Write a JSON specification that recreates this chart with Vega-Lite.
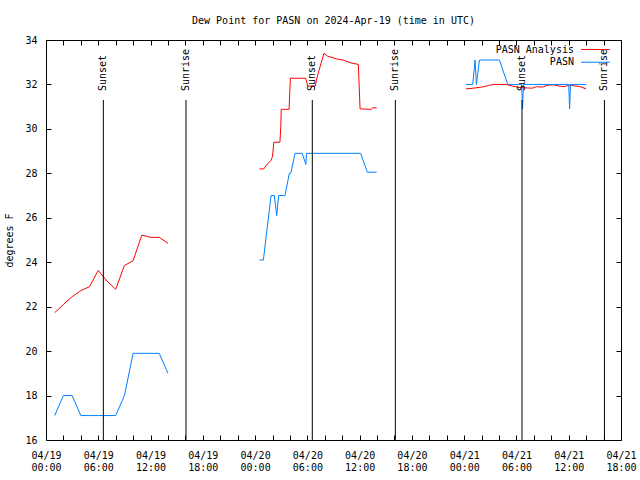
{
  "$schema": "https://vega.github.io/schema/vega-lite/v6.json",
  "width": 575,
  "height": 400,
  "autosize": "none",
  "padding": {"left": 46, "top": 40, "right": 19, "bottom": 40},
  "background": "white",
  "config": {
    "font": "DejaVu Sans Mono",
    "view": {"stroke": "black", "strokeWidth": 1},
    "axis": {
      "domain": false,
      "grid": false,
      "tickColor": "black",
      "tickSize": -5,
      "labelColor": "black",
      "labelFont": "DejaVu Sans Mono",
      "labelFontSize": 10,
      "titleFont": "DejaVu Sans Mono",
      "titleFontSize": 10,
      "titleFontWeight": "normal",
      "titleColor": "black"
    },
    "text": {"font": "DejaVu Sans Mono", "fontSize": 10, "color": "black"}
  },
  "title": {
    "text": "Dew Point for PASN on 2024-Apr-19 (time in UTC)",
    "font": "DejaVu Sans Mono",
    "fontSize": 10,
    "fontWeight": "normal",
    "color": "black",
    "offset": 9
  },
  "datasets": {
    "obs": [
      {"series": "PASN Analysis", "seg": "a1", "time": "2024-04-19T01:00:00Z", "dewpoint": 21.73},
      {"series": "PASN Analysis", "seg": "a1", "time": "2024-04-19T02:00:00Z", "dewpoint": 22.1},
      {"series": "PASN Analysis", "seg": "a1", "time": "2024-04-19T03:00:00Z", "dewpoint": 22.45},
      {"series": "PASN Analysis", "seg": "a1", "time": "2024-04-19T04:00:00Z", "dewpoint": 22.72},
      {"series": "PASN Analysis", "seg": "a1", "time": "2024-04-19T05:00:00Z", "dewpoint": 22.9},
      {"series": "PASN Analysis", "seg": "a1", "time": "2024-04-19T06:00:00Z", "dewpoint": 23.63},
      {"series": "PASN Analysis", "seg": "a1", "time": "2024-04-19T07:00:00Z", "dewpoint": 23.15},
      {"series": "PASN Analysis", "seg": "a1", "time": "2024-04-19T08:00:00Z", "dewpoint": 22.78},
      {"series": "PASN Analysis", "seg": "a1", "time": "2024-04-19T09:00:00Z", "dewpoint": 23.85},
      {"series": "PASN Analysis", "seg": "a1", "time": "2024-04-19T10:00:00Z", "dewpoint": 24.07},
      {"series": "PASN Analysis", "seg": "a1", "time": "2024-04-19T11:00:00Z", "dewpoint": 25.22},
      {"series": "PASN Analysis", "seg": "a1", "time": "2024-04-19T12:00:00Z", "dewpoint": 25.12},
      {"series": "PASN Analysis", "seg": "a1", "time": "2024-04-19T13:00:00Z", "dewpoint": 25.12},
      {"series": "PASN Analysis", "seg": "a1", "time": "2024-04-19T14:00:00Z", "dewpoint": 24.85},

      {"series": "PASN", "seg": "b1", "time": "2024-04-19T01:00:00Z", "dewpoint": 17.1},
      {"series": "PASN", "seg": "b1", "time": "2024-04-19T02:00:00Z", "dewpoint": 18.0},
      {"series": "PASN", "seg": "b1", "time": "2024-04-19T03:00:00Z", "dewpoint": 18.0},
      {"series": "PASN", "seg": "b1", "time": "2024-04-19T04:00:00Z", "dewpoint": 17.1},
      {"series": "PASN", "seg": "b1", "time": "2024-04-19T05:00:00Z", "dewpoint": 17.1},
      {"series": "PASN", "seg": "b1", "time": "2024-04-19T06:00:00Z", "dewpoint": 17.1},
      {"series": "PASN", "seg": "b1", "time": "2024-04-19T07:00:00Z", "dewpoint": 17.1},
      {"series": "PASN", "seg": "b1", "time": "2024-04-19T08:00:00Z", "dewpoint": 17.1},
      {"series": "PASN", "seg": "b1", "time": "2024-04-19T09:00:00Z", "dewpoint": 18.0},
      {"series": "PASN", "seg": "b1", "time": "2024-04-19T10:00:00Z", "dewpoint": 19.9},
      {"series": "PASN", "seg": "b1", "time": "2024-04-19T11:00:00Z", "dewpoint": 19.9},
      {"series": "PASN", "seg": "b1", "time": "2024-04-19T12:00:00Z", "dewpoint": 19.9},
      {"series": "PASN", "seg": "b1", "time": "2024-04-19T13:00:00Z", "dewpoint": 19.9},
      {"series": "PASN", "seg": "b1", "time": "2024-04-19T14:00:00Z", "dewpoint": 19.0},

      {"series": "PASN Analysis", "seg": "a2", "time": "2024-04-20T00:30:00Z", "dewpoint": 28.2},
      {"series": "PASN Analysis", "seg": "a2", "time": "2024-04-20T01:00:00Z", "dewpoint": 28.2},
      {"series": "PASN Analysis", "seg": "a2", "time": "2024-04-20T01:18:00Z", "dewpoint": 28.37},
      {"series": "PASN Analysis", "seg": "a2", "time": "2024-04-20T01:48:00Z", "dewpoint": 28.57},
      {"series": "PASN Analysis", "seg": "a2", "time": "2024-04-20T02:00:00Z", "dewpoint": 28.75},
      {"series": "PASN Analysis", "seg": "a2", "time": "2024-04-20T02:09:00Z", "dewpoint": 29.4},
      {"series": "PASN Analysis", "seg": "a2", "time": "2024-04-20T02:51:00Z", "dewpoint": 29.4},
      {"series": "PASN Analysis", "seg": "a2", "time": "2024-04-20T02:57:00Z", "dewpoint": 30.1},
      {"series": "PASN Analysis", "seg": "a2", "time": "2024-04-20T03:00:00Z", "dewpoint": 30.88},
      {"series": "PASN Analysis", "seg": "a2", "time": "2024-04-20T03:54:00Z", "dewpoint": 30.88},
      {"series": "PASN Analysis", "seg": "a2", "time": "2024-04-20T04:03:00Z", "dewpoint": 32.28},
      {"series": "PASN Analysis", "seg": "a2", "time": "2024-04-20T05:48:00Z", "dewpoint": 32.28},
      {"series": "PASN Analysis", "seg": "a2", "time": "2024-04-20T06:03:00Z", "dewpoint": 31.93},
      {"series": "PASN Analysis", "seg": "a2", "time": "2024-04-20T06:54:00Z", "dewpoint": 31.93},
      {"series": "PASN Analysis", "seg": "a2", "time": "2024-04-20T07:06:00Z", "dewpoint": 32.3},
      {"series": "PASN Analysis", "seg": "a2", "time": "2024-04-20T07:54:00Z", "dewpoint": 33.4},
      {"series": "PASN Analysis", "seg": "a2", "time": "2024-04-20T08:18:00Z", "dewpoint": 33.28},
      {"series": "PASN Analysis", "seg": "a2", "time": "2024-04-20T09:21:00Z", "dewpoint": 33.15},
      {"series": "PASN Analysis", "seg": "a2", "time": "2024-04-20T10:06:00Z", "dewpoint": 33.1},
      {"series": "PASN Analysis", "seg": "a2", "time": "2024-04-20T10:54:00Z", "dewpoint": 32.98},
      {"series": "PASN Analysis", "seg": "a2", "time": "2024-04-20T11:51:00Z", "dewpoint": 32.9},
      {"series": "PASN Analysis", "seg": "a2", "time": "2024-04-20T12:03:00Z", "dewpoint": 30.9},
      {"series": "PASN Analysis", "seg": "a2", "time": "2024-04-20T13:18:00Z", "dewpoint": 30.88},
      {"series": "PASN Analysis", "seg": "a2", "time": "2024-04-20T13:30:00Z", "dewpoint": 30.95},
      {"series": "PASN Analysis", "seg": "a2", "time": "2024-04-20T13:57:00Z", "dewpoint": 30.95},

      {"series": "PASN", "seg": "b2", "time": "2024-04-20T00:30:00Z", "dewpoint": 24.1},
      {"series": "PASN", "seg": "b2", "time": "2024-04-20T00:57:00Z", "dewpoint": 24.1},
      {"series": "PASN", "seg": "b2", "time": "2024-04-20T01:50:00Z", "dewpoint": 27.0},
      {"series": "PASN", "seg": "b2", "time": "2024-04-20T02:12:00Z", "dewpoint": 27.0},
      {"series": "PASN", "seg": "b2", "time": "2024-04-20T02:29:00Z", "dewpoint": 26.1},
      {"series": "PASN", "seg": "b2", "time": "2024-04-20T02:42:00Z", "dewpoint": 27.0},
      {"series": "PASN", "seg": "b2", "time": "2024-04-20T03:26:00Z", "dewpoint": 27.0},
      {"series": "PASN", "seg": "b2", "time": "2024-04-20T03:56:00Z", "dewpoint": 28.0},
      {"series": "PASN", "seg": "b2", "time": "2024-04-20T04:06:00Z", "dewpoint": 28.0},
      {"series": "PASN", "seg": "b2", "time": "2024-04-20T04:35:00Z", "dewpoint": 28.9},
      {"series": "PASN", "seg": "b2", "time": "2024-04-20T05:24:00Z", "dewpoint": 28.9},
      {"series": "PASN", "seg": "b2", "time": "2024-04-20T05:50:00Z", "dewpoint": 28.4},
      {"series": "PASN", "seg": "b2", "time": "2024-04-20T05:54:00Z", "dewpoint": 28.9},
      {"series": "PASN", "seg": "b2", "time": "2024-04-20T12:07:00Z", "dewpoint": 28.9},
      {"series": "PASN", "seg": "b2", "time": "2024-04-20T12:53:00Z", "dewpoint": 28.05},
      {"series": "PASN", "seg": "b2", "time": "2024-04-20T13:57:00Z", "dewpoint": 28.05},

      {"series": "PASN Analysis", "seg": "a3", "time": "2024-04-21T00:12:00Z", "dewpoint": 31.8},
      {"series": "PASN Analysis", "seg": "a3", "time": "2024-04-21T01:00:00Z", "dewpoint": 31.83},
      {"series": "PASN Analysis", "seg": "a3", "time": "2024-04-21T02:00:00Z", "dewpoint": 31.88},
      {"series": "PASN Analysis", "seg": "a3", "time": "2024-04-21T02:48:00Z", "dewpoint": 31.95},
      {"series": "PASN Analysis", "seg": "a3", "time": "2024-04-21T03:18:00Z", "dewpoint": 32.0},
      {"series": "PASN Analysis", "seg": "a3", "time": "2024-04-21T04:48:00Z", "dewpoint": 32.0},
      {"series": "PASN Analysis", "seg": "a3", "time": "2024-04-21T05:30:00Z", "dewpoint": 31.93},
      {"series": "PASN Analysis", "seg": "a3", "time": "2024-04-21T06:12:00Z", "dewpoint": 31.87},
      {"series": "PASN Analysis", "seg": "a3", "time": "2024-04-21T07:00:00Z", "dewpoint": 31.85},
      {"series": "PASN Analysis", "seg": "a3", "time": "2024-04-21T07:48:00Z", "dewpoint": 31.83},
      {"series": "PASN Analysis", "seg": "a3", "time": "2024-04-21T08:18:00Z", "dewpoint": 31.9},
      {"series": "PASN Analysis", "seg": "a3", "time": "2024-04-21T09:00:00Z", "dewpoint": 31.88},
      {"series": "PASN Analysis", "seg": "a3", "time": "2024-04-21T09:36:00Z", "dewpoint": 31.97},
      {"series": "PASN Analysis", "seg": "a3", "time": "2024-04-21T10:18:00Z", "dewpoint": 31.98},
      {"series": "PASN Analysis", "seg": "a3", "time": "2024-04-21T11:00:00Z", "dewpoint": 31.92},
      {"series": "PASN Analysis", "seg": "a3", "time": "2024-04-21T11:30:00Z", "dewpoint": 31.9},
      {"series": "PASN Analysis", "seg": "a3", "time": "2024-04-21T12:12:00Z", "dewpoint": 31.98},
      {"series": "PASN Analysis", "seg": "a3", "time": "2024-04-21T12:42:00Z", "dewpoint": 31.93},
      {"series": "PASN Analysis", "seg": "a3", "time": "2024-04-21T13:18:00Z", "dewpoint": 31.9},
      {"series": "PASN Analysis", "seg": "a3", "time": "2024-04-21T14:00:00Z", "dewpoint": 31.8},

      {"series": "PASN", "seg": "b3", "time": "2024-04-21T00:12:00Z", "dewpoint": 32.0},
      {"series": "PASN", "seg": "b3", "time": "2024-04-21T00:59:00Z", "dewpoint": 32.0},
      {"series": "PASN", "seg": "b3", "time": "2024-04-21T01:15:00Z", "dewpoint": 33.1},
      {"series": "PASN", "seg": "b3", "time": "2024-04-21T01:24:00Z", "dewpoint": 32.0},
      {"series": "PASN", "seg": "b3", "time": "2024-04-21T01:45:00Z", "dewpoint": 33.1},
      {"series": "PASN", "seg": "b3", "time": "2024-04-21T04:03:00Z", "dewpoint": 33.1},
      {"series": "PASN", "seg": "b3", "time": "2024-04-21T05:00:00Z", "dewpoint": 32.0},
      {"series": "PASN", "seg": "b3", "time": "2024-04-21T06:36:00Z", "dewpoint": 32.0},
      {"series": "PASN", "seg": "b3", "time": "2024-04-21T06:42:00Z", "dewpoint": 30.9},
      {"series": "PASN", "seg": "b3", "time": "2024-04-21T06:48:00Z", "dewpoint": 32.0},
      {"series": "PASN", "seg": "b3", "time": "2024-04-21T12:00:00Z", "dewpoint": 32.0},
      {"series": "PASN", "seg": "b3", "time": "2024-04-21T12:06:00Z", "dewpoint": 30.9},
      {"series": "PASN", "seg": "b3", "time": "2024-04-21T12:12:00Z", "dewpoint": 32.0},
      {"series": "PASN", "seg": "b3", "time": "2024-04-21T14:00:00Z", "dewpoint": 32.0}
    ],
    "sun": [
      {"event": "Sunset", "time": "2024-04-19T06:35:00Z"},
      {"event": "Sunrise", "time": "2024-04-19T16:04:00Z"},
      {"event": "Sunset", "time": "2024-04-20T06:34:00Z"},
      {"event": "Sunrise", "time": "2024-04-20T16:06:00Z"},
      {"event": "Sunset", "time": "2024-04-21T06:38:00Z"},
      {"event": "Sunrise", "time": "2024-04-21T16:06:00Z"}
    ]
  },
  "layer": [
    {
      "data": {"name": "obs"},
      "mark": {"type": "line", "strokeWidth": 1, "interpolate": "linear"},
      "encoding": {
        "x": {
          "field": "time",
          "type": "temporal",
          "scale": {"type": "utc", "domain": [1713484800000, 1713722400000], "nice": false},
          "axis": {
            "orient": "bottom",
            "title": null,
            "values": [1713484800000, 1713492000000, 1713499200000, 1713506400000, 1713513600000, 1713520800000, 1713528000000, 1713535200000, 1713542400000, 1713549600000, 1713556800000, 1713564000000, 1713571200000, 1713578400000, 1713585600000, 1713592800000, 1713600000000, 1713607200000, 1713614400000, 1713621600000, 1713628800000, 1713636000000, 1713643200000, 1713650400000, 1713657600000, 1713664800000, 1713672000000, 1713679200000, 1713686400000, 1713693600000, 1713700800000, 1713708000000, 1713715200000, 1713722400000],
            "labelExpr": "utchours(datum.value) % 6 == 0 ? [utcFormat(datum.value, '%m/%d'), utcFormat(datum.value, '%H:%M')] : ''",
            "labelOverlap": false,
            "labelFlush": false,
            "labelPadding": 15,
            "labelLineHeight": 12
          }
        },
        "y": {
          "field": "dewpoint",
          "type": "quantitative",
          "scale": {"domain": [16, 34], "nice": false, "zero": false},
          "axis": {
            "orient": "left",
            "values": [16, 18, 20, 22, 24, 26, 28, 30, 32, 34],
            "title": "degrees F",
            "labelPadding": 14,
            "titlePadding": 10
          }
        },
        "color": {
          "field": "series",
          "type": "nominal",
          "scale": {"domain": ["PASN Analysis", "PASN"], "range": ["#ff0000", "#0080ff"]},
          "legend": null
        },
        "detail": {"field": "seg", "type": "nominal"}
      }
    },
    {
      "data": {"name": "obs"},
      "mark": {"type": "point", "opacity": 0},
      "encoding": {
        "x": {
          "field": "time",
          "type": "temporal",
          "axis": {
            "orient": "top",
            "title": null,
            "labels": false,
            "values": [1713484800000, 1713492000000, 1713499200000, 1713506400000, 1713513600000, 1713520800000, 1713528000000, 1713535200000, 1713542400000, 1713549600000, 1713556800000, 1713564000000, 1713571200000, 1713578400000, 1713585600000, 1713592800000, 1713600000000, 1713607200000, 1713614400000, 1713621600000, 1713628800000, 1713636000000, 1713643200000, 1713650400000, 1713657600000, 1713664800000, 1713672000000, 1713679200000, 1713686400000, 1713693600000, 1713700800000, 1713708000000, 1713715200000, 1713722400000]
          }
        },
        "y": {
          "field": "dewpoint",
          "type": "quantitative",
          "axis": {
            "orient": "right",
            "title": null,
            "labels": false,
            "values": [16, 18, 20, 22, 24, 26, 28, 30, 32, 34]
          }
        }
      }
    },
    {
      "data": {"name": "sun"},
      "mark": {"type": "rule", "color": "black", "strokeWidth": 1},
      "encoding": {
        "x": {"field": "time", "type": "temporal", "axis": null},
        "y": {"datum": 31.3, "type": "quantitative", "axis": null},
        "y2": {"datum": 16}
      }
    },
    {
      "data": {"name": "sun"},
      "mark": {"type": "text", "angle": 270, "align": "left", "baseline": "middle", "fontSize": 10, "color": "black"},
      "encoding": {
        "x": {"field": "time", "type": "temporal", "axis": null},
        "y": {"datum": 31.7, "type": "quantitative", "axis": null},
        "text": {"field": "event"}
      }
    },
    {
      "data": {"values": [{"label": "PASN Analysis"}]},
      "mark": {"type": "text", "align": "right", "baseline": "middle", "fontSize": 10, "color": "black"},
      "encoding": {
        "x": {"datum": 1713702960000, "type": "temporal", "axis": null},
        "y": {"datum": 33.57, "type": "quantitative", "axis": null},
        "text": {"field": "label"}
      }
    },
    {
      "data": {"values": [{"label": "PASN"}]},
      "mark": {"type": "text", "align": "right", "baseline": "middle", "fontSize": 10, "color": "black"},
      "encoding": {
        "x": {"datum": 1713702960000, "type": "temporal", "axis": null},
        "y": {"datum": 33.0, "type": "quantitative", "axis": null},
        "text": {"field": "label"}
      }
    },
    {
      "data": {"values": [{"series": "PASN Analysis"}]},
      "mark": {"type": "rule", "strokeWidth": 1, "color": "#ff0000"},
      "encoding": {
        "x": {"datum": 1713705900000, "type": "temporal", "axis": null},
        "x2": {"datum": 1713717840000},
        "y": {"datum": 33.57, "type": "quantitative", "axis": null}
      }
    },
    {
      "data": {"values": [{"series": "PASN"}]},
      "mark": {"type": "rule", "strokeWidth": 1, "color": "#0080ff"},
      "encoding": {
        "x": {"datum": 1713705900000, "type": "temporal", "axis": null},
        "x2": {"datum": 1713717840000},
        "y": {"datum": 33.0, "type": "quantitative", "axis": null}
      }
    }
  ],
  "resolve": {"axis": {"x": "independent", "y": "independent"}}
}
